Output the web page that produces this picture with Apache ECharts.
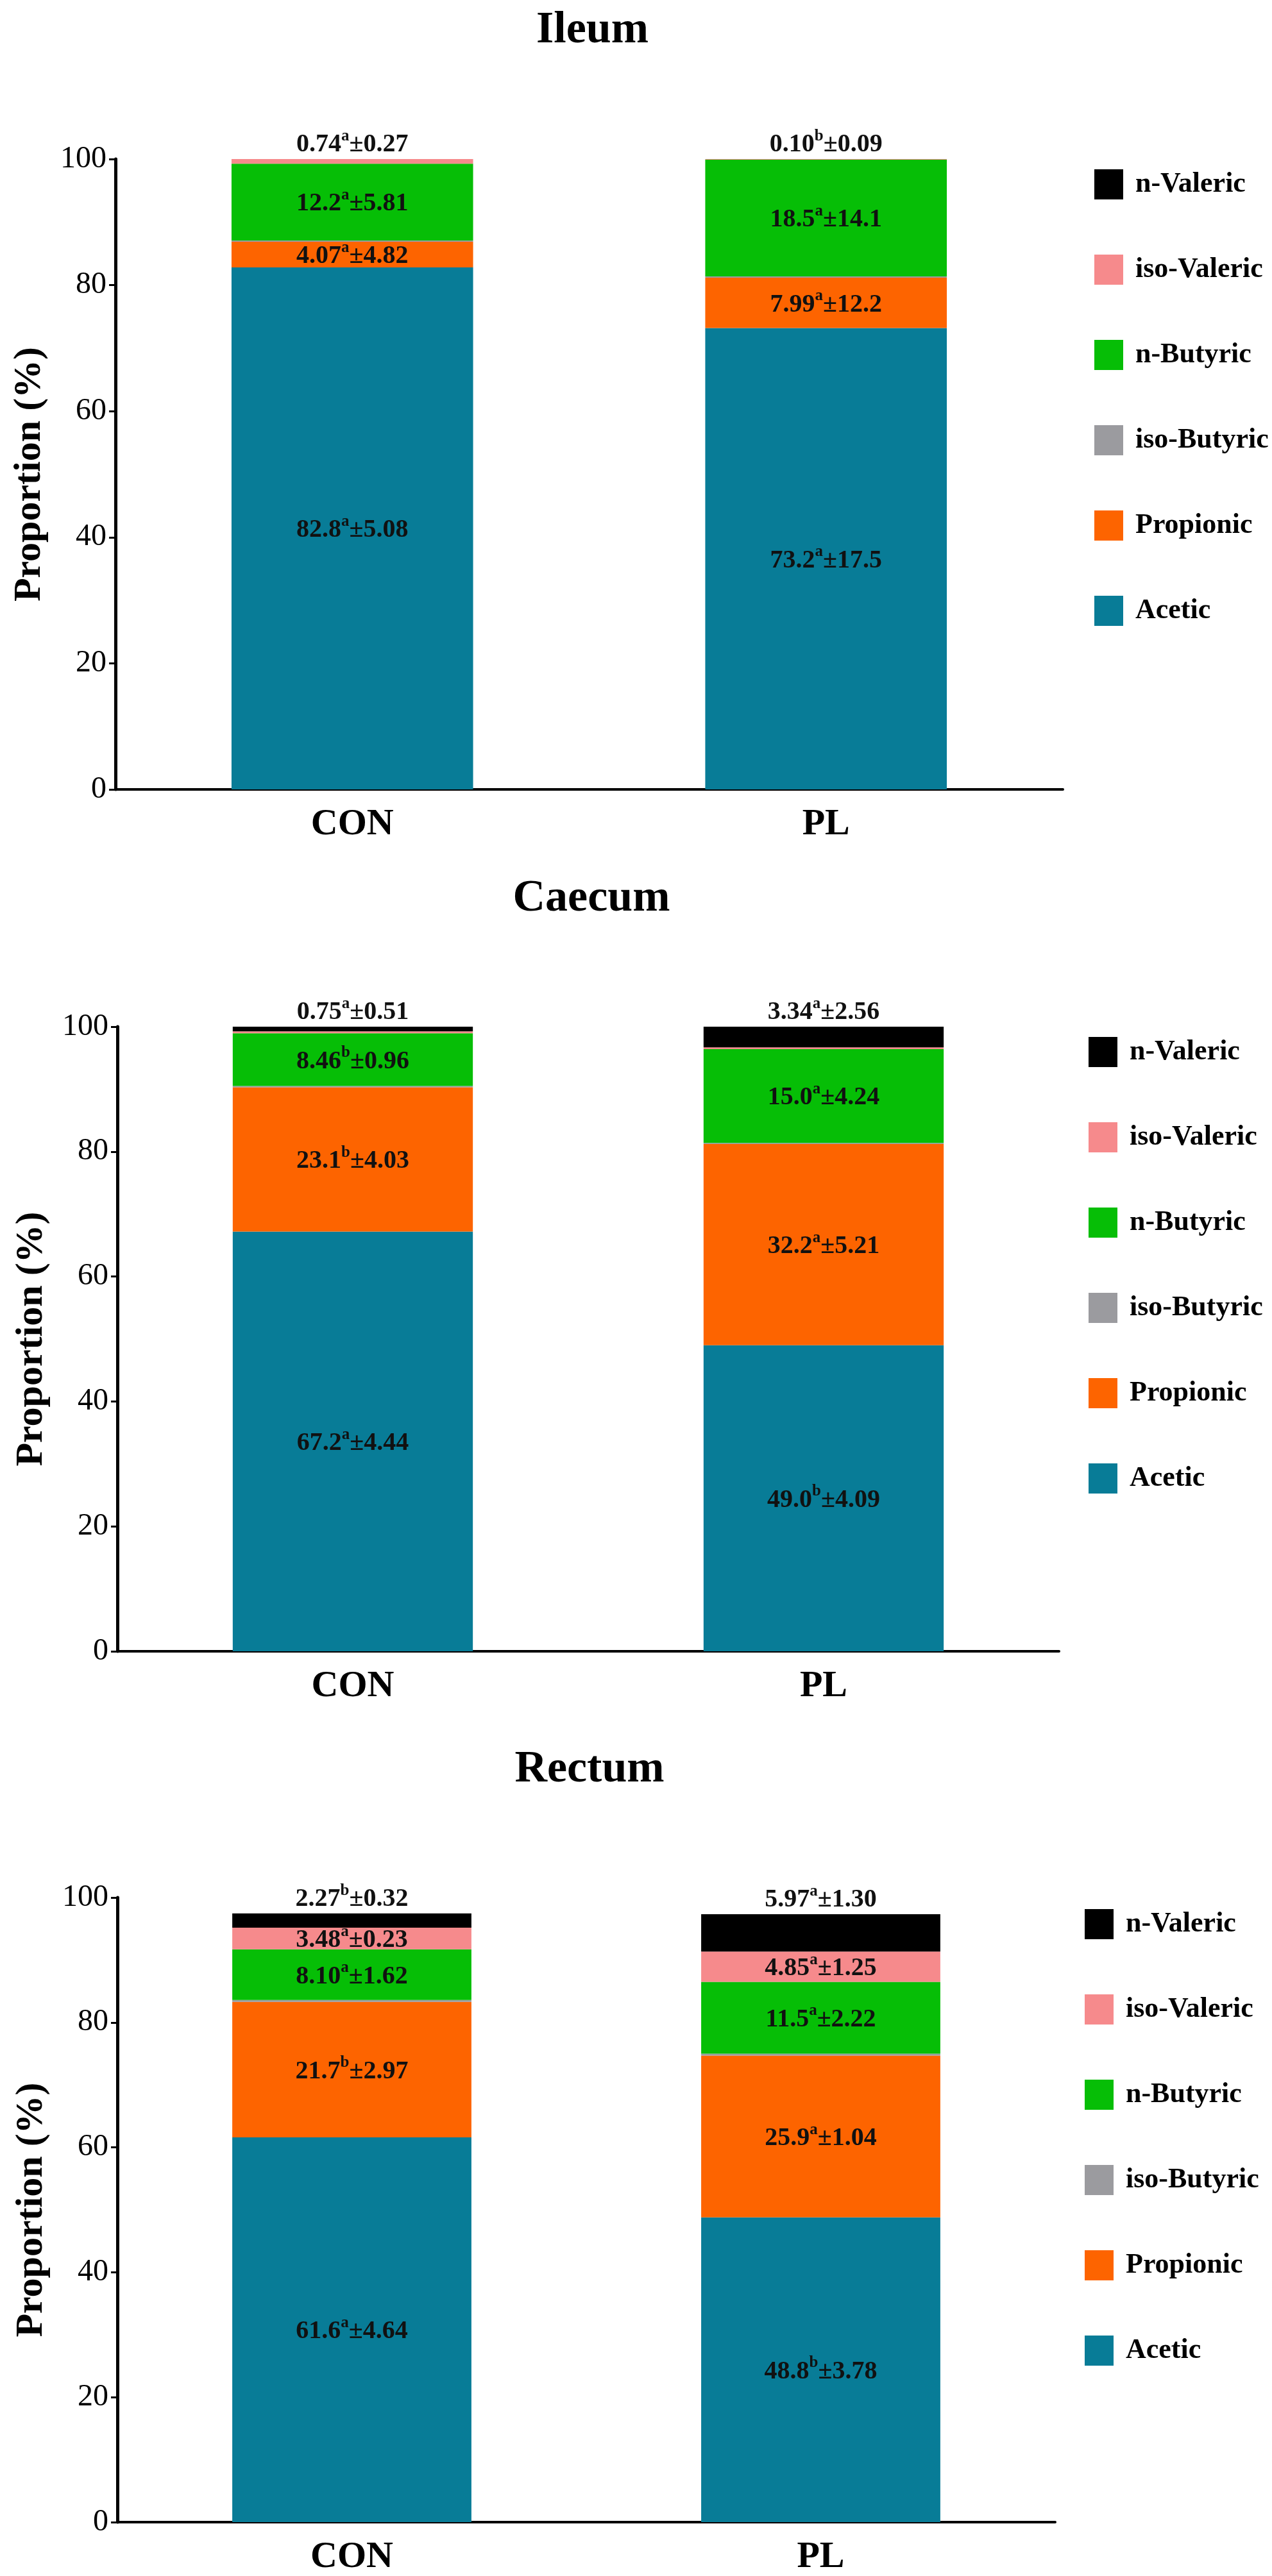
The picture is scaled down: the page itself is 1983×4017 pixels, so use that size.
<html>
<head>
  <meta charset="utf-8">
  <title>SCFA proportion</title>
  <script type="text/javascript" src="https://cdn.jsdelivr.net/npm/echarts@6/dist/echarts.min.js"></script>
  <style>body{margin:0;background:#fff;}</style>
</head>
<body>
<div id="chartmain" style="width:1983px; height:4017px;"></div>
<script type="text/javascript">
  // categories and series names
  var groups = ['CON', 'PL'];
  var acids = ['Acetic', 'Propionic', 'iso-Butyric', 'n-Butyric', 'iso-Valeric', 'n-Valeric'];
  var legendOrder = ['n-Valeric', 'iso-Valeric', 'n-Butyric', 'iso-Butyric', 'Propionic', 'Acetic'];
  var colors = ['#087c97', '#fd6400', '#9b9b9f', '#06be06', '#f68a8c', '#000000'];
  var panels = ['Ileum', 'Caecum', 'Rectum'];
  var yTicks = [0, 20, 40, 60, 80, 100];

  // mean proportions (%), same order as acids
  var ileumCON  = [82.8, 4.07, 0.2, 12.2, 0.74, 0];
  var ileumPL   = [73.2, 7.99, 0.2, 18.5, 0.10, 0];
  var caecumCON = [67.2, 23.1, 0.2, 8.46, 0.3, 0.75];
  var caecumPL  = [49.0, 32.2, 0.2, 15.0, 0.3, 3.34];
  var rectumCON = [61.6, 21.7, 0.3, 8.10, 3.48, 2.27];
  var rectumPL  = [48.8, 25.9, 0.3, 11.5, 4.85, 5.97];

  // SD and significance letters (null = no label)
  var ileumCONsd   = ['5.08', '4.82', null, '5.81', '0.27', null];
  var ileumCONsig  = ['a', 'a', null, 'a', 'a', null];
  var ileumPLsd    = ['17.5', '12.2', null, '14.1', '0.09', null];
  var ileumPLsig   = ['a', 'a', null, 'a', 'b', null];
  var caecumCONsd  = ['4.44', '4.03', null, '0.96', null, '0.51'];
  var caecumCONsig = ['a', 'b', null, 'b', null, 'a'];
  var caecumPLsd   = ['4.09', '5.21', null, '4.24', null, '2.56'];
  var caecumPLsig  = ['b', 'a', null, 'a', null, 'a'];
  var rectumCONsd  = ['4.64', '2.97', null, '1.62', '0.23', '0.32'];
  var rectumCONsig = ['a', 'b', null, 'a', 'a', 'b'];
  var rectumPLsd   = ['3.78', '1.04', null, '2.22', '1.25', '1.30'];
  var rectumPLsig  = ['b', 'a', null, 'a', 'a', 'a'];

  var panelData = [
    {con: ileumCON, pl: ileumPL, conSd: ileumCONsd, conSig: ileumCONsig, plSd: ileumPLsd, plSig: ileumPLsig},
    {con: caecumCON, pl: caecumPL, conSd: caecumCONsd, conSig: caecumCONsig, plSd: caecumPLsd, plSig: caecumPLsig},
    {con: rectumCON, pl: rectumPL, conSd: rectumCONsd, conSig: rectumCONsig, plSd: rectumPLsd, plSig: rectumPLsig}
  ];

  // layout of the three panels (px)
  var layout = [
    {gridLeft: 180, gridTop: 248, gridW: 1477, gridH: 983, titleTop: 8, legendLeft: 1701, legendTop: 259},
    {gridLeft: 183, gridTop: 1601, gridW: 1468, gridH: 974, titleTop: 1362, legendLeft: 1692, legendTop: 1612},
    {gridLeft: 183, gridTop: 2959, gridW: 1462, gridH: 975, titleTop: 2720, legendLeft: 1686, legendTop: 2972}
  ];

  var FONT = 'Liberation Serif';

  function fmt(v) {
    return v < 10 ? v.toFixed(2) : v.toFixed(1);
  }

  function lastLabelled(sig) {
    var k = -1;
    for (var i = 0; i < sig.length; i++) { if (sig[i]) k = i; }
    return k;
  }

  var labelRich = {
    v: {fontFamily: FONT, fontSize: 40, fontWeight: 'bold', color: '#111', lineHeight: 46, verticalAlign: 'bottom'},
    s: {fontFamily: FONT, fontSize: 25, fontWeight: 'bold', color: '#111', lineHeight: 46, verticalAlign: 'top'}
  };

  function makePoint(val, sd, sig, isTop) {
    var p = {value: val};
    if (sig) {
      p.label = {
        show: true,
        position: isTop ? 'top' : 'inside',
        distance: 2,
        formatter: '{v|' + fmt(val) + '}{s|' + sig + '}{v|±' + sd + '}',
        rich: labelRich
      };
    } else {
      p.label = {show: false};
    }
    return p;
  }

  var option = {
    animation: false,
    backgroundColor: '#fff',
    textStyle: {fontFamily: FONT},
    title: [], grid: [], xAxis: [], yAxis: [], legend: [], series: []
  };

  panels.forEach(function (name, p) {
    var L = layout[p];
    var d = panelData[p];
    option.title.push({
      text: name,
      left: L.gridLeft + L.gridW / 2,
      top: L.titleTop,
      textAlign: 'center',
      textStyle: {fontFamily: FONT, fontSize: 70, fontWeight: 'bold', color: '#000'}
    });
    option.grid.push({left: L.gridLeft, top: L.gridTop, width: L.gridW, height: L.gridH});
    option.xAxis.push({
      type: 'category',
      gridIndex: p,
      data: groups,
      axisLine: {lineStyle: {color: '#000', width: 4}},
      axisTick: {alignWithLabel: true, length: 12, lineStyle: {color: '#000', width: 3}},
      axisLabel: {margin: 26, color: '#000', fontFamily: FONT, fontSize: 58, fontWeight: 'bold'}
    });
    option.yAxis.push({
      type: 'value',
      gridIndex: p,
      min: yTicks[0],
      max: yTicks[yTicks.length - 1],
      interval: 20,
      name: 'Proportion (%)',
      nameLocation: 'middle',
      nameGap: 104,
      nameTextStyle: {fontFamily: FONT, fontSize: 60, fontWeight: 'bold', color: '#000'},
      axisLine: {show: true, lineStyle: {color: '#000', width: 5}},
      axisTick: {show: true, length: 10, lineStyle: {color: '#000', width: 3}},
      axisLabel: {margin: 14, color: '#000', fontFamily: FONT, fontSize: 48},
      splitLine: {show: false}
    });
    option.legend.push({
      data: legendOrder,
      orient: 'vertical',
      left: L.legendLeft,
      top: L.legendTop,
      icon: 'rect',
      itemWidth: 45,
      itemHeight: 47,
      itemGap: 86,
      selectedMode: false,
      formatter: '{t|{name}}',
      textStyle: {
        fontFamily: FONT, fontSize: 44, fontWeight: 'bold', color: '#000',
        rich: {t: {fontFamily: FONT, fontSize: 44, fontWeight: 'bold', color: '#000', padding: [0, 0, 0, 14]}}
      }
    });
    var conTop = lastLabelled(d.conSig);
    var plTop = lastLabelled(d.plSig);
    acids.forEach(function (acid, a) {
      option.series.push({
        name: acid,
        type: 'bar',
        stack: 'panel' + p,
        xAxisIndex: p,
        yAxisIndex: p,
        barWidth: '51%',
        itemStyle: {color: colors[a]},
        data: [
          makePoint(d.con[a], d.conSd[a], d.conSig[a], a === conTop),
          makePoint(d.pl[a], d.plSd[a], d.plSig[a], a === plTop)
        ]
      });
    });
  });

  var myChart = echarts.init(document.getElementById('chartmain'));
  myChart.setOption(option);
</script>
</body>
</html>
